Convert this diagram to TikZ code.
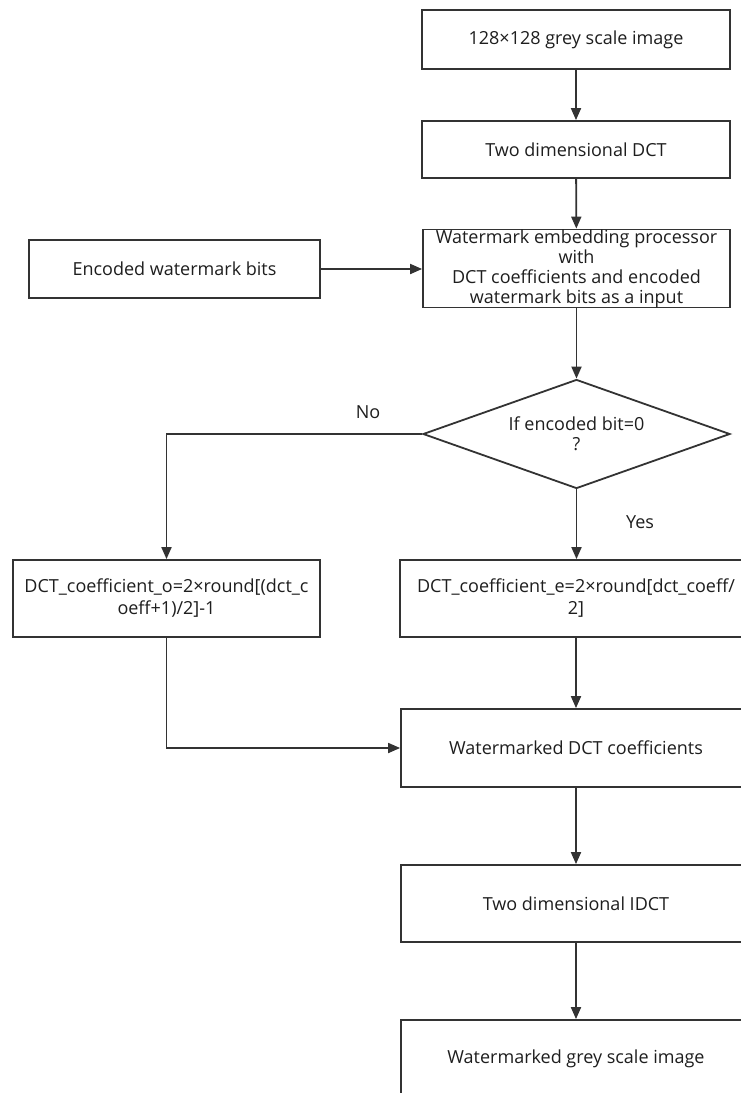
\documentclass[tikz,border=0pt]{standalone}
\usepackage{fontspec}
\setmainfont{Open Sans}
\usetikzlibrary{shapes.geometric}
\usetikzlibrary{arrows.meta}
\definecolor{linegray}{HTML}{333333}
\definecolor{textgray}{HTML}{1E1E1E}

\tikzset{
  procbox/.style={draw=linegray, line width=1.8pt, fill=white, text=textgray,
    inner sep=0pt, align=center, font=\fontsize{18}{20}\selectfont},
  decision/.style={diamond, draw=linegray, line width=1.8pt, fill=white, text=textgray,
    minimum width=307pt, minimum height=109pt, inner sep=0pt, aspect=2.8,
    align=center, font=\fontsize{18}{20}\selectfont},
  flow/.style={draw=linegray, line width=1.8pt, -{Triangle[length=12pt,width=10pt]}},
  branch/.style={text=textgray, font=\fontsize{18}{20}\selectfont}
}

\begin{document}
\begin{tikzpicture}[x=1pt,y=-1pt]
          \path[use as bounding box, clip] (0,0) rectangle (741,1093);
          \fill[white] (0,0) rectangle (741,1093);
          \node[procbox, minimum width=308pt, minimum height=59pt] (img) at (576,39.5) {128×128 grey scale image};
          \node[procbox, minimum width=308pt, minimum height=57pt] (dct) at (576,149.5) {Two dimensional DCT};
          \node[procbox, minimum width=307pt, minimum height=77pt] (embed) at (576.5,268.5) {Watermark embedding processor\\with\\DCT coefficients and encoded\\watermark bits as a input};
          \node[procbox, minimum width=291pt, minimum height=58pt] (enc) at (174.5,269) {Encoded watermark bits};
          \node[decision] (test) at (576.5,434) {If encoded bit=0\\?};
          \node[procbox, minimum width=307pt, minimum height=77pt, font=\fontsize{18}{22}\selectfont] (codd) at (166.5,598.5) {DCT\_coefficient\_o=2×round[(dct\_c\\oeff+1)/2]-1};
          \node[procbox, minimum width=352pt, minimum height=77pt, font=\fontsize{18}{22}\selectfont] (ceven) at (576,598.5) {DCT\_coefficient\_e=2×round[dct\_coeff/\\2]};
          \node[procbox, minimum width=350pt, minimum height=78pt] (wdct) at (576,748) {Watermarked DCT coefficients};
          \node[procbox, minimum width=350pt, minimum height=77pt] (idct) at (576,903.5) {Two dimensional IDCT};
          \node[procbox, minimum width=350pt, minimum height=78pt] (wimg) at (576,1059) {Watermarked grey scale image};
          \draw[flow] (img) -- (dct);
          \draw[flow] (dct) -- (embed);
          \draw[flow] (enc) -- (embed.west |- enc.east);
          \draw[flow] (embed) -- (test);
          \draw[flow] (test.west) -| (codd.north);
          \draw[flow] (test.south) -- (test.south |- ceven.north);
          \draw[flow] (codd.south) |- (wdct.west);
          \draw[flow] (ceven) -- (wdct);
          \draw[flow] (wdct) -- (idct);
          \draw[flow] (idct) -- (wimg);
          \node[branch] (no) at (368,412) {No};
          \node[branch] (yes) at (640,522) {Yes};
        \end{tikzpicture}
\end{document}
